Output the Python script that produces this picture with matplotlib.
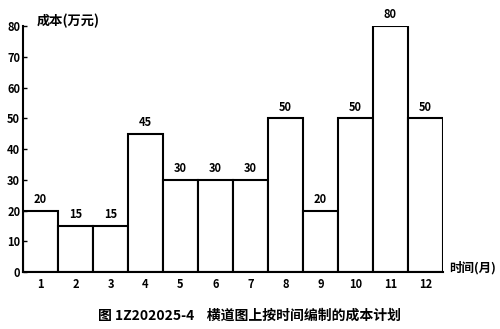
import matplotlib
matplotlib.use("Agg")
import matplotlib.pyplot as plt

months = list(range(1, 13))
month_labels = [str(m) for m in months]
costs = [20, 15, 15, 45, 30, 30, 30, 50, 20, 50, 80, 50]
yticks = [0, 10, 20, 30, 40, 50, 60, 70, 80]

plt.rcParams['font.family'] = ['Noto Sans CJK SC', 'DejaVu Sans']

fig = plt.figure(figsize=(5, 3.29), dpi=100)
ax = fig.add_axes([0.046, 0.173, 0.84, 0.748])
ax.bar(months, costs, width=1.0, facecolor='white', edgecolor='black', linewidth=1.5)
for m, c in zip(months, costs):
    ax.text(m, c + 1.5, str(c), ha='center', va='bottom', fontsize=8, fontweight='bold')
ax.set_xlim(0.5, 12.5)
ax.set_ylim(0, 80)
ax.set_xticks(months)
ax.set_xticklabels(month_labels, fontsize=8, fontweight='bold')
ax.set_yticks(yticks)
ax.set_yticklabels([str(v) for v in yticks], fontsize=8, fontweight='bold')
ax.tick_params(axis='x', length=0, pad=4)
ax.tick_params(axis='y', direction='in', length=3, pad=2, width=1)
for s in ['top', 'right']:
    ax.spines[s].set_visible(False)
for s in ['left', 'bottom']:
    ax.spines[s].set_linewidth(1.5)
fig.text(0.074, 0.935, '成本(万元)', fontsize=9.5, fontweight='bold', ha='left', va='center')
fig.text(0.898, 0.185, '时间(月)', fontsize=9, fontweight='bold', ha='left', va='center')
fig.text(0.5, 0.04, '图 1Z202025-4    横道图上按时间编制的成本计划', fontsize=10, fontweight='bold', ha='center', va='center')
fig.savefig('out.png', dpi=100, facecolor='white')
